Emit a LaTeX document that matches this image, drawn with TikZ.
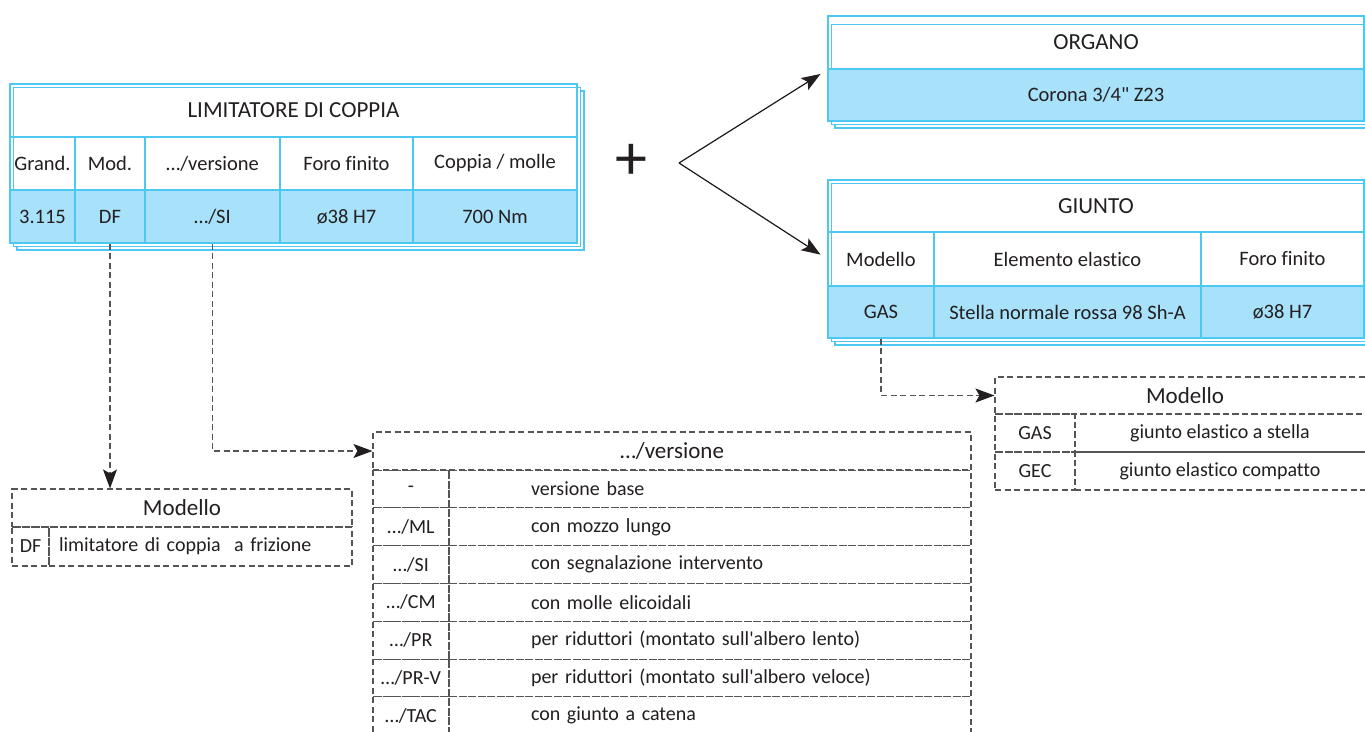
\documentclass[tikz,border=0pt]{standalone}
\usepackage{fontspec}
\setmainfont{Carlito}[Ligatures={TeXOff,CommonOff}]
\usetikzlibrary{arrows.meta}
\definecolor{bl}{RGB}{77,200,243}
\definecolor{fillb}{RGB}{168,225,250}
\definecolor{txt}{RGB}{35,31,32}
\definecolor{dsh}{RGB}{85,85,85}
\begin{document}
\begin{tikzpicture}[x=1pt,y=-1pt,
  cell/.style={draw=bl, line width=1.4pt, inner sep=0pt, text=txt,
    font=\fontsize{20.5}{24}\selectfont},
  titlecell/.style={cell, font=\fontsize{23}{27}\selectfont},
  fcell/.style={cell, fill=fillb},
  layer/.style={draw=bl, line width=1.4pt, fill=white},
  dcell/.style={draw=dsh, dashed, dash pattern=on 6pt off 3.5pt, line width=1.1pt,
    inner sep=0pt, text=txt, font=\fontsize{20}{24}\selectfont},
  dtitle/.style={dcell, font=\fontsize{23}{27}\selectfont},
  dline/.style={draw=dsh, dashed, dash pattern=on 6pt off 3.5pt, line width=1.1pt},
  tip/.style={-{Stealth[length=19pt,width=14pt,inset=4pt,color=txt]}},
  conn/.style={draw=black!90, line width=1.2pt, tip}
]
\clip (0,0) rectangle (1365,731);
\fill[white] (0,0) rectangle (1365,731);

% ---------- LIMITATORE DI COPPIA ----------
\draw[layer] (17,91) rectangle (584,250);
\draw[layer] (13.5,87.5) rectangle (580.5,246.5);
\node[titlecell, minimum width=567pt, minimum height=53pt] (limT) at (293.5,110.5) {LIMITATORE DI COPPIA};
\node[cell, minimum width=65pt, minimum height=53pt] (granH) at (42.5,163.5) {Grand.};
\node[cell, minimum width=70pt, minimum height=53pt] (modH) at (110,163.5) {Mod.};
\node[cell, minimum width=135pt, minimum height=53pt] (verH) at (212.5,163.5) {…/versione};
\node[cell, minimum width=133pt, minimum height=53pt] (foroH) at (346.5,163.5) {Foro finito};
\node[cell, minimum width=164pt, minimum height=53pt] (copH) at (495,163.5) {Coppia / molle};
\node[fcell, minimum width=65pt, minimum height=53pt] (granV) at (42.5,216.5) {3.115};
\node[fcell, minimum width=70pt, minimum height=53pt] (modV) at (110,216.5) {DF};
\node[fcell, minimum width=135pt, minimum height=53pt] (verV) at (212.5,216.5) {…/SI};
\node[fcell, minimum width=133pt, minimum height=53pt] (foroV) at (346.5,216.5) {ø38 H7};
\node[fcell, minimum width=164pt, minimum height=53pt] (copV) at (495,216.5) {700 Nm};

% ---------- plus and arrows ----------
\node[text=txt, font=\fontsize{64}{64}\selectfont, inner sep=0pt] (plus) at (631,162) {+};
\coordinate (split) at (679,163);

% ---------- ORGANO ----------
\draw[layer] (835,28) rectangle (1371,128);
\draw[layer] (831.5,24.5) rectangle (1367.5,124.5);
\node[titlecell, minimum width=536pt, minimum height=53pt] (orgT) at (1096,42.5) {ORGANO};
\node[fcell, minimum width=536pt, minimum height=52pt] (orgV) at (1096,95) {Corona 3/4" Z23};

% ---------- GIUNTO ----------
\draw[layer] (835,187) rectangle (1371,345);
\draw[layer] (831.5,183.5) rectangle (1367.5,341.5);
\node[titlecell, minimum width=536pt, minimum height=52pt] (giuT) at (1096,206) {GIUNTO};
\node[cell, minimum width=106pt, minimum height=54pt] (gModH) at (881,259) {Modello};
\node[cell, minimum width=267pt, minimum height=54pt] (gEleH) at (1067.5,259) {Elemento elastico};
\node[cell, minimum width=163pt, minimum height=54pt] (gForH) at (1282.5,259) {Foro finito};
\node[fcell, minimum width=106pt, minimum height=52pt] (gModV) at (881,312) {GAS};
\node[fcell, minimum width=267pt, minimum height=52pt] (gEleV) at (1067.5,312) {Stella normale rossa 98 Sh-A};
\node[fcell, minimum width=163pt, minimum height=52pt] (gForV) at (1282.5,312) {ø38 H7};

\draw[conn, shorten >=8pt] (split) -- (orgT.south west);
\draw[conn, shorten >=8pt] (split) -- (gModH.west);

% ---------- Modello (left) ----------
\node[dtitle, minimum width=340pt, minimum height=38pt] (mlT) at (182,508) {Modello};
\node[dcell, minimum width=37pt, minimum height=39pt] (mlK) at (30.5,546.5) {DF};
\node[dcell, minimum width=303pt, minimum height=39pt, text width=283pt, align=left] (mlD) at (200.5,546.5) {limitatore di coppia\ \ a frizione};

% ---------- …/versione ----------
\node[dtitle, minimum width=598pt, minimum height=38pt] (vT) at (672,451) {…/versione};
\foreach \k/\d/\n [count=\i from 0] in {-/versione base/v1,{…/ML}/con mozzo lungo/v2,{…/SI}/con segnalazione intervento/v3,{…/CM}/con molle elicoidali/v4,{…/PR}/per riduttori (montato sull'albero lento)/v5,{…/PR-V}/per riduttori (montato sull'albero veloce)/v6,{…/TAC}/con giunto a catena/v7}{
  \node[dcell, minimum width=76pt, minimum height=37.8pt] (\n k) at (411,{489+37.8*\i}) {\k};
  \node[dcell, minimum width=522pt, minimum height=37.8pt, text width=358pt, align=left] (\n d) at (710,{489+37.8*\i}) {\d};
}

% ---------- Modello (right) ----------
\node[dtitle, minimum width=380pt, minimum height=37pt] (mrT) at (1185,395.5) {Modello};
\node[dcell, minimum width=80pt, minimum height=38pt] (mrK1) at (1035,433) {GAS};
\node[dcell, minimum width=300pt, minimum height=38pt] (mrD1) at (1225,433) {\hspace*{-10pt}giunto elastico a stella};
\node[dcell, minimum width=80pt, minimum height=38pt] (mrK2) at (1035,471) {GEC};
\node[dcell, minimum width=300pt, minimum height=38pt] (mrD2) at (1225,471) {\hspace*{-10pt}giunto elastico compatto};

% ---------- dashed connectors ----------
\draw[dline, tip] (modV.south) -- (modV.south |- mlT.north);
\draw[dline, tip] (verV.south) |- (vT.west);
\draw[dline, tip] (gModV.south) |- (mrT.west);
\end{tikzpicture}
\end{document}
